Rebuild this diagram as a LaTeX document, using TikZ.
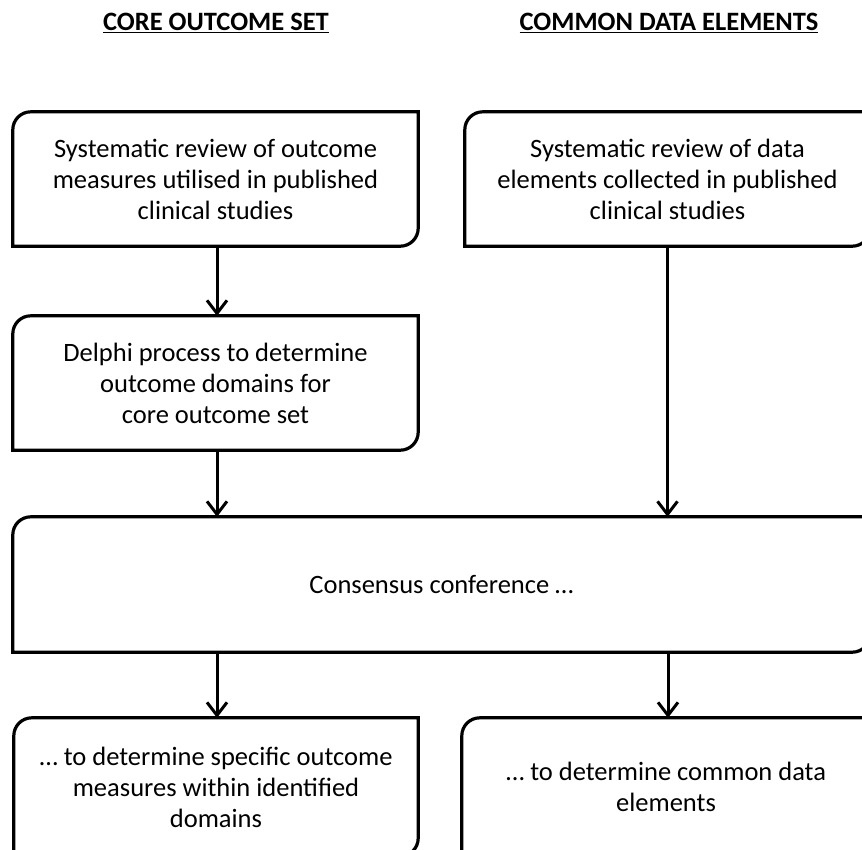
\documentclass[tikz,border=0pt]{standalone}
\usepackage{fontspec}
\setmainfont{Carlito}
\usetikzlibrary{arrows.meta}
\tikzset{
  txt/.style={draw=none, inner sep=0pt, align=center, font=\fontsize{26.5}{31}\selectfont},
  ttl/.style={inner sep=0pt, font=\fontsize{26.5}{30}\selectfont\bfseries},
  boxline/.style={line width=3.2pt, black},
  arr/.style={line width=3pt, -{Straight Barb[length=13pt,width=20pt,line width=3pt]}}
}
\newcommand\cornerbox[1]{%
  \draw[boxline] (#1.south west) -- ([yshift=-18pt]#1.north west)
    arc[start angle=180,end angle=90,radius=18pt] -- (#1.north east)
    -- ([yshift=18pt]#1.south east)
    arc[start angle=0,end angle=-90,radius=18pt] -- cycle;}
\begin{document}
\begin{tikzpicture}
\useasboundingbox (0,0) rectangle (862pt,-849pt);
\clip (0,0) rectangle (862pt,-849pt);
\fill[white] (0,0) rectangle (862pt,-849pt);

\node[ttl] (t1) at (216pt,-23pt) {\underline{CORE OUTCOME SET}};
\node[ttl] (t2) at (669pt,-23pt) {\underline{COMMON DATA ELEMENTS}};

\node[txt, minimum width=405pt, minimum height=134pt] (b1) at (215.5pt,-179pt)
  {Systematic review of outcome\\measures utilised in published\\clinical studies};
\node[txt, minimum width=405pt, minimum height=134pt] (b2) at (667.5pt,-179pt)
  {Systematic review of data\\elements collected in published\\clinical studies};
\node[txt, minimum width=405pt, minimum height=134pt] (b3) at (215.5pt,-383pt)
  {Delphi process to determine\\outcome domains for\\core outcome set};
\node[txt, minimum width=857pt, minimum height=135pt] (b4) at (441.5pt,-584.5pt)
  {Consensus conference \dots};
\node[txt, minimum width=404pt, minimum height=138pt] (b5) at (216pt,-787pt)
  {\dots\ to determine specific outcome\\measures within identified\\domains};
\node[txt, minimum width=408pt, minimum height=138pt] (b6) at (666pt,-787pt)
  {\dots\ to determine common data\\elements};

\cornerbox{b1}
\cornerbox{b2}
\cornerbox{b3}
\cornerbox{b4}
\cornerbox{b5}
\cornerbox{b6}

\draw[arr] ([xshift=1.5pt]b1.south) -- ([xshift=1.5pt]b3.north);
\draw[arr] (b3.south -| b1.south) ++(1.5pt,0) -- ([xshift=1.5pt]b4.north -| b3.south);
\draw[arr] (b2.south) -- (b4.north -| b2.south);
\draw[arr] ([xshift=1pt]b4.south -| b5.north) -- ([xshift=1pt]b5.north);
\draw[arr] ([xshift=2pt]b4.south -| b6.north) -- ([xshift=2pt]b6.north);
\end{tikzpicture}
\end{document}
